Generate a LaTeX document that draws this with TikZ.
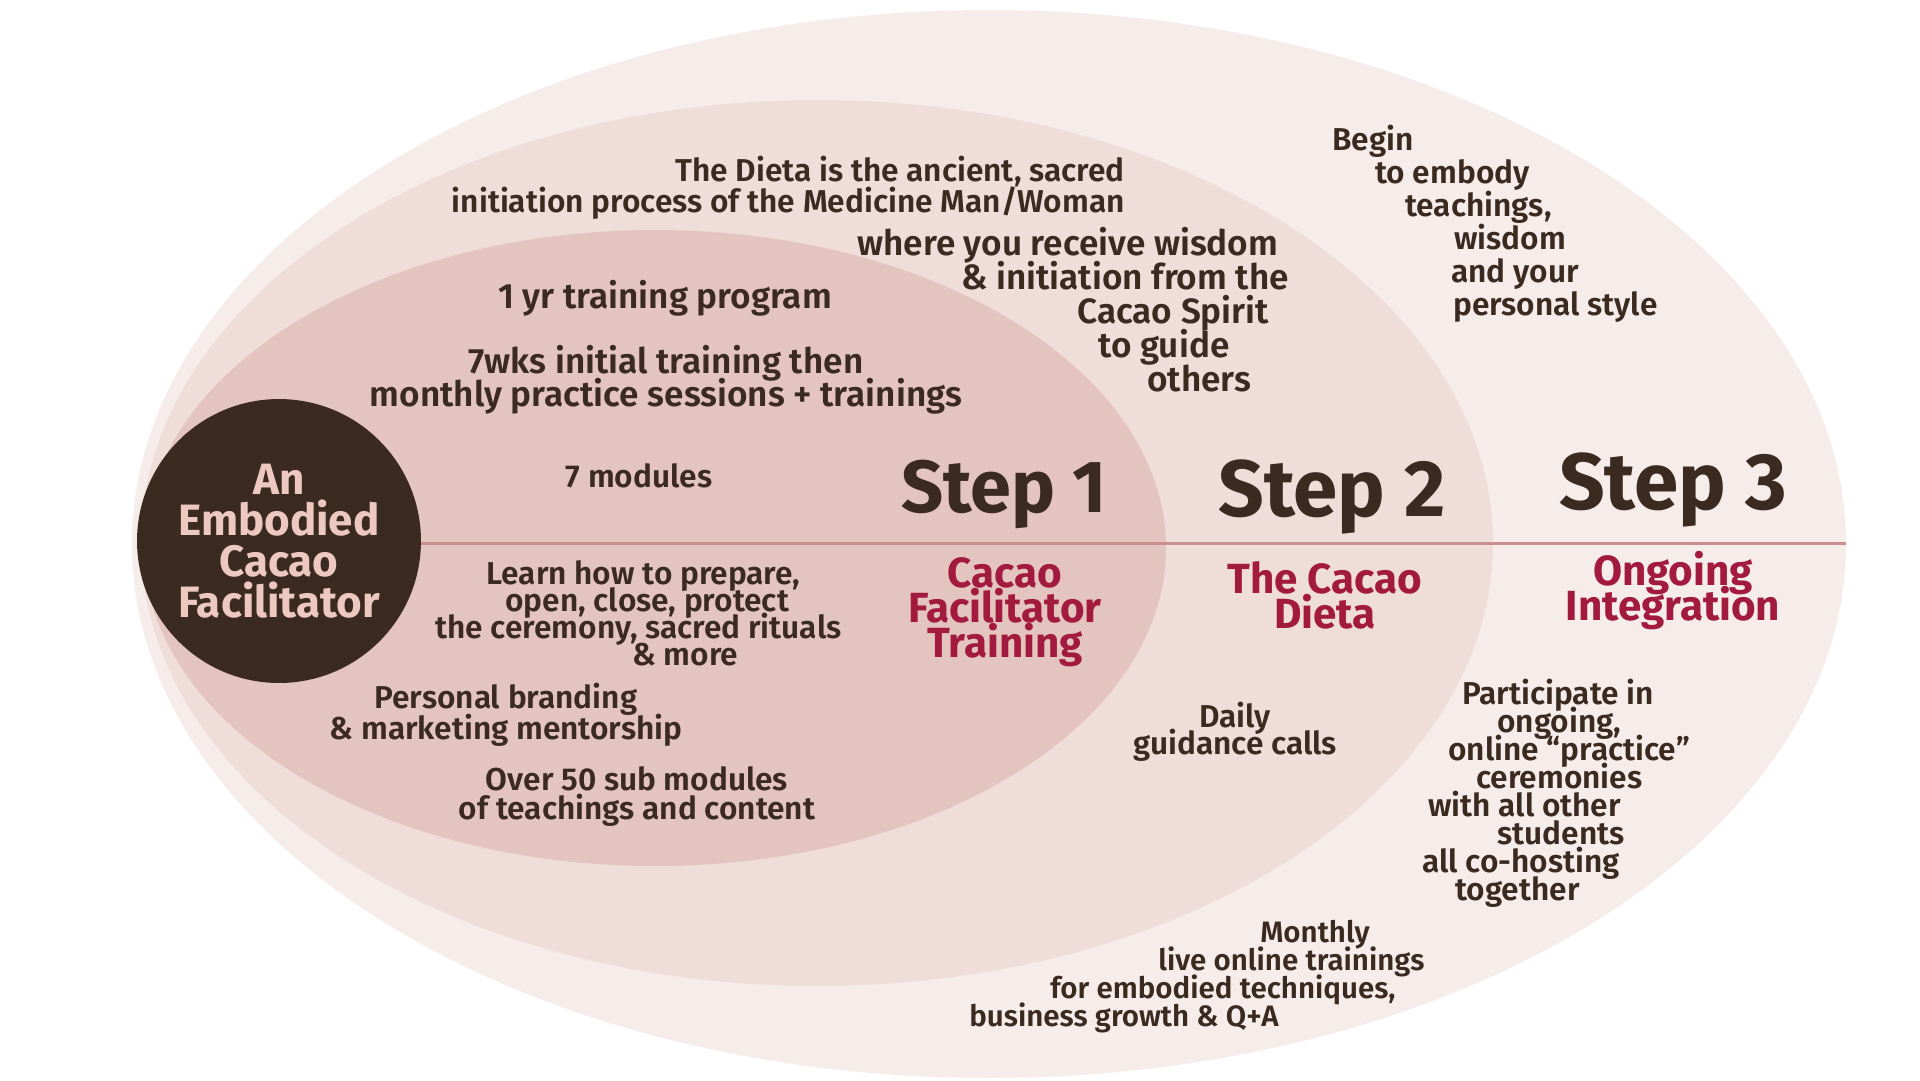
\documentclass[tikz,border=0pt]{standalone}
\usepackage{fontspec}
\setmainfont{Fira Sans}[UprightFont=* SemiBold, BoldFont=* Bold]
\usetikzlibrary{positioning}
\lineskiplimit=-100pt
\newlength\pxunit
\setlength\pxunit{0.2mm}
\newcommand\shiftby[1]{\hspace*{#1\pxunit}}
\definecolor{ringouter}{HTML}{F6EDEB}
\definecolor{ringmid}{HTML}{EFDDD9}
\definecolor{ringinner}{HTML}{E4C4BF}
\definecolor{cacao}{HTML}{3A2A1F}
\definecolor{blush}{HTML}{EDC8C1}
\definecolor{berry}{HTML}{A31A3F}
\definecolor{divline}{HTML}{CB8E8E}
\definecolor{ink}{HTML}{3A2A20}
\begin{document}
\begin{tikzpicture}[x=0.02cm, y=-0.02cm,
    body/.style={font=\fontsize{18}{#1}\selectfont, text=ink, inner sep=0pt, align=center},
    body/.default=16,
    bodybig/.style={body, font=\fontsize{20}{#1}\selectfont},
    bodybig/.default=16,
    bodysmall/.style={body, font=\fontsize{16.8}{#1}\selectfont},
    bodysmall/.default=16,
    steptitle/.style={font=\bfseries\fontsize{#1}{#1}\selectfont, text=ink, inner sep=0pt, anchor=base},
    steptitle/.default=42,
    stepname/.style={font=\bfseries\fontsize{24}{20}\selectfont, text=berry, inner sep=0pt, align=center, anchor=north},
    hub/.style={circle, fill=cacao, minimum size=5.68cm, inner sep=0pt, text=blush, align=center,
      font=\bfseries\fontsize{25}{23.3}\selectfont}]

% canvas
\useasboundingbox[fill=white] (0,0) rectangle (1920,1080);

% nested rings
\fill[ringouter] (989,544) ellipse [x radius=857, y radius=534];
\fill[ringmid] (817,543) ellipse [x radius=676, y radius=443];
\fill[ringinner] (655,548) ellipse [x radius=511, y radius=318];

% hub and divider
\node[hub] (hub) at (279,541) {An\\Embodied\\Cacao\\Facilitator};
\coordinate (lineend) at (1846,543);
\draw[divline, line width=0.06cm] (hub.east |- lineend) -- (lineend);

% step headings
\node[steptitle] (step1) at (1004,512) {Step 1};
\node[steptitle=45.5] (step2) at (1332,516) {Step 2};
\node[steptitle=45.5] (step3) at (1673,509) {Step 3};
\node[stepname] (name1) at (1005,557) {Cacao\\Facilitator\\Training};
\node[stepname] (name2) at (1325,561) {The Cacao\\Dieta};
\node[stepname] (name3) at (1673,551) {Ongoing\\Integration};

% step 1: training
\node[bodybig, anchor=north] (yr) at (665,280) {1 yr training program};
\node[bodybig=18.8, anchor=north] (wks) at (666,345) {7wks initial training then\\monthly practice sessions + trainings};
\node[body, anchor=north] (mods) at (639,463) {7 modules};
\node[body=15.4, anchor=north west, align=left] (learn) at (435,560)
  {\shiftby{51}Learn how to prepare,\\\shiftby{70}open, close, protect\\the ceremony, sacred rituals\\\shiftby{197}\& more};
\node[body=17.4, anchor=north] (brand) at (506,683) {Personal branding\\\& marketing mentorship};
\node[body=16.7, anchor=north] (subs) at (637,766) {Over 50 sub modules\\of teachings and content};

% step 2: dieta
\node[body=17.4, anchor=north east, align=right] (dieta) at (1125,156)
  {The Dieta is the ancient, sacred\\initiation process of the Medicine Man/Woman};
\node[bodybig=19.4, anchor=north west, align=left] (wisdom) at (857,227)
  {where you receive wisdom\\\shiftby{104}\& initiation from the\\\shiftby{220}Cacao Spirit\\\shiftby{241}to guide\\\shiftby{290}others};
\node[body=15.4, anchor=north] (daily) at (1235,702) {Daily\\guidance calls};

% step 3: integration
\node[body=18.8, anchor=north west, align=left] (begin) at (1332,125)
  {Begin\\\shiftby{43}to embody\\\shiftby{73}teachings,\\\shiftby{122}wisdom\\\shiftby{119}and your\\\shiftby{121}personal style};
\node[body=15.9, anchor=north west, align=left] (practice) at (1422,679)
  {\shiftby{40}Participate in\\\shiftby{75}ongoing,\\\shiftby{26}online “practice”\\\shiftby{54}ceremonies\\\shiftby{6}with all other\\\shiftby{75}students\\all co-hosting\\\shiftby{33}together};
\node[bodysmall=15.9, anchor=north west, align=left] (monthly) at (969,920)
  {\shiftby{291}Monthly\\\shiftby{189}live online trainings\\\shiftby{81}for embodied techniques,\\business growth \& Q+A};

\end{tikzpicture}
\end{document}
